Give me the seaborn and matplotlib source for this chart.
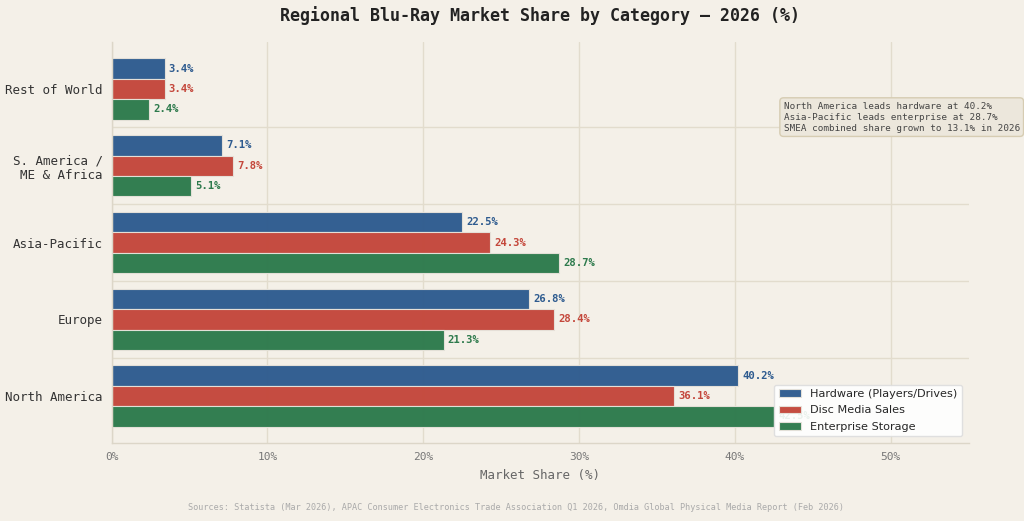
import matplotlib
matplotlib.use("Agg")
import matplotlib.pyplot as plt
import seaborn as sns
import pandas as pd

regions = ["Rest of World", "S. America /\nME & Africa", "Asia-Pacific", "Europe", "North America"]
categories = ["Hardware (Players/Drives)", "Disc Media Sales", "Enterprise Storage"]
hardware = [3.4, 7.1, 22.5, 26.8, 40.2]
disc_media = [3.4, 7.8, 24.3, 28.4, 36.1]
enterprise = [2.4, 5.1, 28.7, 21.3, 42.5]
x_ticks = [0, 10, 20, 30, 40, 50]
colors = ["#2e5b8f", "#c4473b", "#2d7a4c"]

rows = []
for series, vals in zip(categories, [hardware, disc_media, enterprise]):
    for r, v in zip(regions, vals):
        rows.append({"Region": r, "Category": series, "Share": v})
df = pd.DataFrame(rows)

BG = "#f4f0e8"
sns.set_theme(style="white")
plt.rcParams["font.family"] = ["DejaVu Sans Mono", "DejaVu Sans"]

fig, ax = plt.subplots(figsize=(10.24, 5.21), dpi=100)
fig.patch.set_facecolor(BG)
ax.set_facecolor(BG)

sns.barplot(data=df, y="Region", x="Share", hue="Category", order=regions,
            hue_order=categories, palette=colors, saturation=1, orient="h", width=0.8,
            edgecolor="#e6e2da", linewidth=0.8, alpha=0.97, ax=ax, zorder=2)

ax.set_xlim(0, 55)
ax.set_ylim(len(regions) - 0.39, -0.61)
ax.set_xticks(x_ticks)
ax.set_xticklabels([f"{t}%" for t in x_ticks], fontsize=8, color="#777777")
ax.tick_params(axis="y", labelsize=9, labelcolor="#333333", length=3, color="#999999")
ax.tick_params(axis="x", length=3, color="#999999")
ax.xaxis.grid(True, color="#e2dccd", linewidth=1.0, zorder=0)
ax.set_axisbelow(True)
for i in range(len(regions) - 1):
    ax.axhline(i + 0.5, color="#e2dccd", linewidth=1.0, zorder=1)

for s in ["top", "right"]:
    ax.spines[s].set_visible(False)
for s in ["left", "bottom"]:
    ax.spines[s].set_color("#dcd6c8")
    ax.spines[s].set_linewidth(1.0)

for cont, col in zip(ax.containers, colors):
    labels = [f"{b.get_width():.1f}%" for b in cont]
    ax.bar_label(cont, labels=labels, padding=3, fontsize=7.7, fontweight="bold",
                 color=col, zorder=3)

ax.set_ylabel("")
ax.set_xlabel("Market Share (%)", fontsize=9, color="#666666", labelpad=5)

leg = ax.legend(loc="lower right", frameon=True, framealpha=0.9,
                facecolor="white", edgecolor="#dddddd",
                prop={"family": "DejaVu Sans", "size": 8.1},
                labelspacing=0.55, borderaxespad=0.6)
leg.set_zorder(5)

ax.text(0.784, 0.813,
        "North America leads hardware at 40.2%\nAsia-Pacific leads enterprise at 28.7%\nSMEA combined share grown to 13.1% in 2026",
        transform=ax.transAxes, fontsize=6.7, color="#444444", ha="left", va="center",
        multialignment="left", linespacing=1.3, zorder=6,
        bbox=dict(boxstyle="round,pad=0.4", facecolor="#ece7dc", edgecolor="#d6ccb2", linewidth=1))

ax.set_title("Regional Blu-Ray Market Share by Category — 2026 (%)", fontsize=12,
             fontweight="bold", color="#222222", pad=15)
fig.text(0.504, 0.022, "Sources: Statista (Mar 2026), APAC Consumer Electronics Trade Association Q1 2026, Omdia Global Physical Media Report (Feb 2026)",
         ha="center", fontsize=6.1, color="#aaaaaa")

fig.subplots_adjust(left=0.109, right=0.946, top=0.919, bottom=0.15)
fig.savefig("out.png", dpi=100, facecolor=BG)
